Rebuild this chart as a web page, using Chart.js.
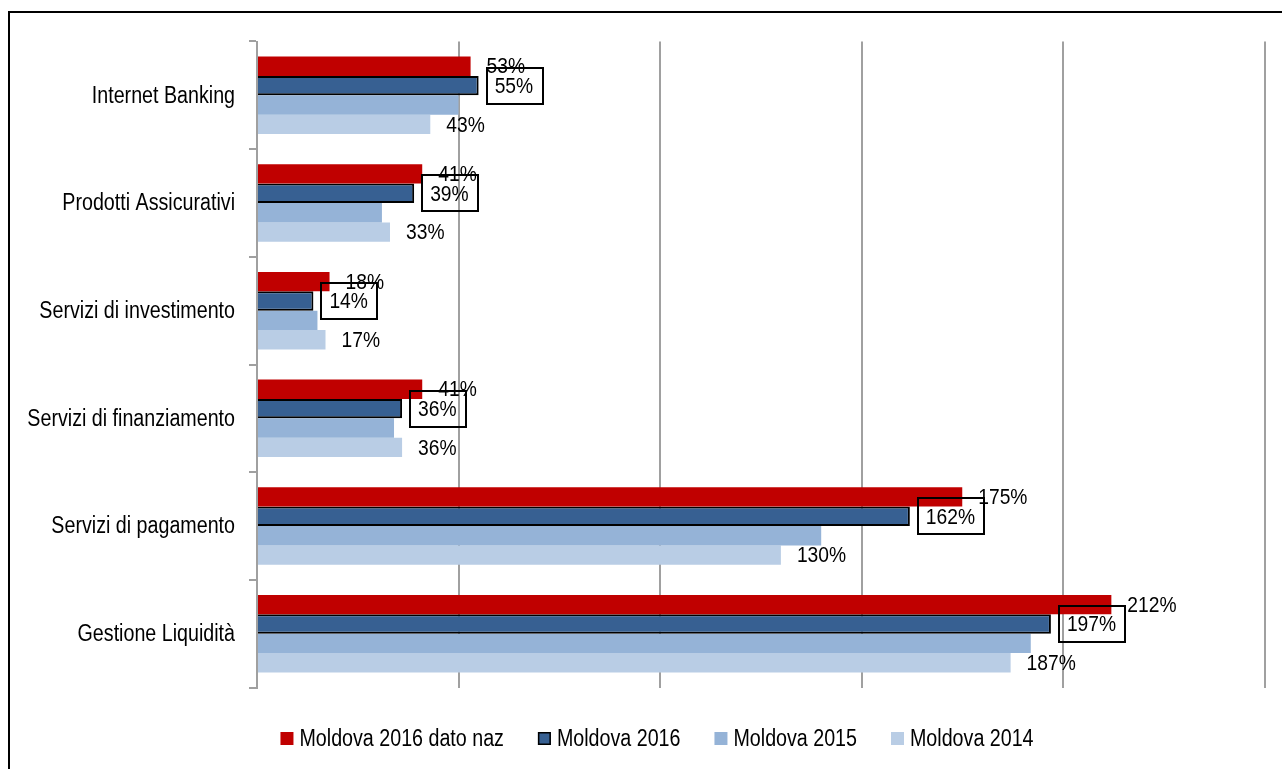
<!DOCTYPE html>
<html>
<head>
<meta charset="utf-8">
<script src="https://cdn.jsdelivr.net/npm/chart.js@4/dist/chart.umd.min.js"></script>
<style>
  html, body { margin: 0; padding: 0; background: #ffffff; }
  #wrap { position: relative; width: 1282px; height: 769px; }
</style>
</head>
<body>
<div id="wrap"><canvas id="chart"></canvas></div>
<script>
// Categories (services) and one value list per series, in percent
const categories = [
  'Internet Banking',
  'Prodotti Assicurativi',
  'Servizi di investimento',
  'Servizi di finanziamento',
  'Servizi di pagamento',
  'Gestione Liquidità'
];
const seriesNames = ['Moldova 2016 dato naz', 'Moldova 2016', 'Moldova 2015', 'Moldova 2014'];
const moldova2016Naz = [53, 41, 18, 41, 175, 212];
const moldova2016 = [55, 39, 14, 36, 162, 197];
const moldova2015 = [50, 31, 15, 34, 140, 192];
const moldova2014 = [43, 33, 17, 36, 130, 187];
const axisMin = 0;
const axisMax = 250;
const axisStep = 50;

const FONT = '"Liberation Sans", Arial, Helvetica, sans-serif';
const NARROW = 0.855;         // condensed type: horizontal squeeze of the face
const GRID = '#a0a0a0';

const seriesColors = ['#c00000', '#376092', '#95b3d7', '#b9cde5'];
const seriesValues = [moldova2016Naz, moldova2016, moldova2015, moldova2014];
const showValue = [true, true, false, true];
const boxedValue = [false, true, false, false];

// Draws condensed text; returns its drawn width
function narrowText(ctx, text, x, y, align) {
  const w = ctx.measureText(text).width * NARROW;
  const left = align === 'right' ? x - w : x;
  ctx.save();
  ctx.translate(left, y);
  ctx.scale(NARROW, 1);
  ctx.textAlign = 'left';
  ctx.fillText(text, 0, 0);
  ctx.restore();
  return w;
}

// Category names left of the axis, placed by the category scale
const categoryLabels = {
  id: 'categoryLabels',
  afterDraw(chart) {
    const ctx = chart.ctx;
    const yScale = chart.scales.y;
    ctx.save();
    ctx.font = '23px ' + FONT;
    ctx.textBaseline = 'middle';
    ctx.fillStyle = '#000';
    categories.forEach((name, i) => {
      narrowText(ctx, name, 235, yScale.getPixelForValue(i) + 1, 'right');
    });
    ctx.restore();
  }
};

// Value labels at the end of each bar; the 2016 series gets a framed label
const valueLabels = {
  id: 'valueLabels',
  afterDatasetsDraw(chart) {
    const ctx = chart.ctx;
    ctx.save();
    ctx.font = '22.5px ' + FONT;
    ctx.textBaseline = 'middle';
    chart.data.datasets.forEach((ds, di) => {
      if (!showValue[di]) return;
      const meta = chart.getDatasetMeta(di);
      meta.data.forEach((bar, i) => {
        const txt = ds.data[i] + '%';
        const tx = bar.x + 16;
        const ty = bar.y;
        ctx.fillStyle = '#000';
        const w = narrowText(ctx, txt, tx, ty + 1, 'left');
        if (boxedValue[di]) {
          ctx.lineWidth = 2;
          ctx.strokeStyle = '#000';
          ctx.strokeRect(Math.round(tx - 8), Math.round(ty - 18), Math.round(w + 17), 36);
        }
      });
    });
    ctx.restore();
  }
};

// Frame lines and the legend row under the plot
const frameAndLegend = {
  id: 'frameAndLegend',
  afterDraw(chart) {
    const ctx = chart.ctx;
    ctx.save();
    ctx.strokeStyle = '#000';
    ctx.lineWidth = 2;
    ctx.beginPath();
    ctx.moveTo(9, chart.height);
    ctx.lineTo(9, 12);
    ctx.lineTo(chart.width, 12);
    ctx.stroke();

    ctx.font = '23px ' + FONT;
    ctx.textBaseline = 'middle';
    const box = 13, gap = 6, spacing = 34;
    const widths = seriesNames.map(n => ctx.measureText(n).width * NARROW);
    const total = widths.reduce((a, w) => a + box + gap + w, 0) + spacing * (seriesNames.length - 1);
    let x = 657 - total / 2;
    const cy = 738.5;
    seriesNames.forEach((name, i) => {
      ctx.fillStyle = seriesColors[i];
      ctx.fillRect(x, cy - box / 2, box, box);
      if (i === 1) {
        ctx.lineWidth = 1.5;
        ctx.strokeStyle = '#000';
        ctx.strokeRect(x + 0.75, cy - box / 2 + 0.75, box - 1.5, box - 1.5);
      }
      ctx.fillStyle = '#000';
      narrowText(ctx, name, x + box + gap, cy + 1, 'left');
      x += box + gap + widths[i] + spacing;
    });
    ctx.restore();
  }
};

const datasets = seriesNames.map((name, i) => ({
  label: name,
  data: seriesValues[i],
  backgroundColor: seriesColors[i],
  borderColor: i === 1 ? '#000000' : seriesColors[i],
  borderWidth: i === 1 ? 2 : 0,
  categoryPercentage: 0.72,
  barPercentage: 1.0
}));

new Chart(document.getElementById('chart'), {
  type: 'bar',
  data: { labels: categories, datasets },
  options: {
    indexAxis: 'y',
    responsive: true,
    maintainAspectRatio: false,
    animation: false,
    devicePixelRatio: 1,
    layout: { padding: { top: 41.5, right: 17.5, bottom: 81.5, left: 0 } },
    plugins: {
      legend: { display: false },
      tooltip: { enabled: false }
    },
    scales: {
      x: {
        min: axisMin,
        max: axisMax,
        ticks: { display: false, stepSize: axisStep },
        grid: { color: GRID, lineWidth: 2, drawTicks: false },
        border: { display: false },
        afterFit(scale) { scale.height = 0; }
      },
      y: {
        ticks: { display: false },
        grid: {
          drawOnChartArea: false,
          drawTicks: true,
          tickLength: 8,
          color: GRID,
          lineWidth: 2,
          offset: true
        },
        border: { display: true, color: GRID, width: 2 },
        afterFit(scale) { scale.width = 257; }
      }
    }
  },
  plugins: [categoryLabels, valueLabels, frameAndLegend]
});
</script>
</body>
</html>
